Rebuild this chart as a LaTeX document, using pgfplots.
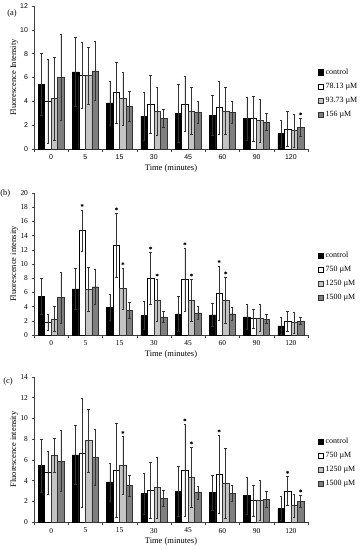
\documentclass[border=0pt]{standalone}
\usepackage{pgfplots}
\pgfplotsset{compat=1.18}
\usepackage{fontspec}
\setmainfont{Liberation Serif}
\setsansfont{Liberation Sans}
\definecolor{lgray}{HTML}{C4C4C4}
\definecolor{dgray}{HTML}{7F7F7F}
\pgfplotsset{
  common/.style={
    scale only axis, width=274bp,
    axis lines*=left, axis line style={black!75, line width=0.5bp},
    xmin=-0.5, xmax=7.5,
    xtick={0,...,7}, xticklabels={0,5,15,30,45,60,90,120},
    major x tick style={draw=none},
    minor xtick={-0.5,0.5,...,7.5},
    minor tick length=2.5bp, major tick length=2.5bp, tick align=outside,
    tick style={black!75, line width=0.5bp},
    /pgf/number format/assume math mode=true,
    tick label style={font=\fontsize{7.5}{8}\selectfont},
    label style={font=\fontsize{8.5}{9}\selectfont},
    xlabel={Time (minutes)},
    xlabel style={yshift=2bp},
    ylabel style={at={(axis description cs:-0.073,0.5)}, anchor=center},
    legend style={draw=none, fill=none, font=\fontsize{8}{9}\selectfont, row sep=3.2bp, inner sep=0pt, cells={anchor=west}},
    legend cell align=left,
    clip=false,
  },
  bars/.style={ybar, bar width=0.19, bar shift=0pt, line width=0.4bp,
    error bars/y dir=both, error bars/y explicit,
    error bars/error bar style={line width=0.45bp, black!80},
    error bars/error mark options={rotate=90, mark size=1.3bp, line width=0.45bp, black!80}},
  limg/.style={legend image code/.code={\draw[##1, line width=0.4bp] (0bp,-2.6bp) rectangle (5.2bp,2.6bp);}},
  s1/.style={bars, fill=black, draw=black, limg},
  s2/.style={bars, fill=white, draw=black, limg},
  s3/.style={bars, fill=lgray, draw=black!80, limg},
  s4/.style={bars, fill=dgray, draw=black!80, limg},
  star/.style={only marks, mark=asterisk, mark size=1.5bp, mark options={black, line width=0.6bp}, forget plot},
}
\begin{document}
\begin{tikzpicture}[x=1bp,y=1bp]
\path[use as bounding box] (0,0) rectangle (362,-550);
% ---------------- (a)
\begin{axis}[common, at={(34bp,-149bp)}, anchor=south west, height=143bp,
  ymin=0, ymax=12, ytick={0,2,...,12},
  tick label style={font=\fontsize{7}{8}\selectfont\sffamily},
  ylabel={Fluorescence Intensity},
  legend style={at={(1.036,0.39)}, anchor=west}]
\addplot[s1] table[x expr=\thisrow{x}-0.285,y=y,y error=e] {
x y e
0 5.44 2.58
1 6.48 2.86
2 3.87 1.85
3 2.75 1.99
4 2.97 2.43
5 2.85 1.67
6 2.55 1.80
7 1.30 1.15
};
\addplot[s2] table[x expr=\thisrow{x}-0.095,y=y,y error=e] {
x y e
0 4.00 3.50
1 6.17 2.77
2 4.74 2.58
3 3.73 2.44
4 3.80 2.30
5 3.50 2.22
6 2.55 1.90
7 1.70 1.50
};
\addplot[s3] table[x expr=\thisrow{x}+0.095,y=y,y error=e] {
x y e
0 4.23 3.51
1 6.17 2.38
2 4.23 2.22
3 3.17 1.99
4 3.20 2.00
5 3.20 2.00
6 2.40 1.80
7 1.55 1.37
};
\addplot[s4] table[x expr=\thisrow{x}+0.285,y=y,y error=e] {
x y e
0 6.03 3.61
1 6.56 2.47
2 3.59 1.23
3 2.58 0.76
4 3.05 0.92
5 3.10 0.95
6 2.28 0.72
7 1.82 0.78
};
\addplot[star] coordinates {(7.285,2.95)};
\legend{control,78.13 µM,93.73 µM,156 µM}
\node[font=\fontsize{8.5}{9}\selectfont, anchor=center] at (axis description cs:-0.08,0.945) {(a)};
\end{axis}
% ---------------- (b)
\begin{axis}[common, at={(34bp,-335bp)}, anchor=south west, height=142bp,
  ymin=0, ymax=20, ytick={0,2,...,20},
  ylabel={Fluorescence intensity},
  legend style={at={(1.036,0.41)}, anchor=west}]
\addplot[s1] table[x expr=\thisrow{x}-0.285,y=y,y error=e] {
x y e
0 5.44 2.58
1 6.48 2.86
2 3.87 1.85
3 2.75 1.99
4 2.97 2.43
5 2.85 1.67
6 2.55 1.80
7 1.30 1.15
};
\addplot[s2] table[x expr=\thisrow{x}-0.095,y=y,y error=e] {
x y e
0 1.78 1.12
1 14.70 2.90
2 12.60 4.50
3 8.00 3.60
4 7.80 4.40
5 5.87 3.83
6 2.30 1.40
7 2.00 1.40
};
\addplot[s3] table[x expr=\thisrow{x}+0.095,y=y,y error=e] {
x y e
0 2.25 1.75
1 6.45 3.05
2 6.55 2.85
3 4.85 2.95
4 4.90 2.90
5 4.85 3.25
6 2.40 1.90
7 1.75 1.45
};
\addplot[s4] table[x expr=\thisrow{x}+0.285,y=y,y error=e] {
x y e
0 5.30 3.60
1 6.80 2.50
2 3.45 1.15
3 2.55 0.80
4 3.10 0.90
5 3.00 0.90
6 2.25 0.65
7 2.00 0.55
};
\addplot[star] coordinates {(0.905,18.25) (1.905,17.75) (2.905,12.25) (3.905,12.85) (4.905,10.35)
  (2.095,10.05) (3.095,8.45) (4.095,8.45) (5.095,8.75)};
\legend{control,750 µM,1250 µM,1500 µM}
\node[font=\fontsize{8.5}{9}\selectfont, anchor=center] at (axis description cs:-0.105,1.0) {(b)};
\end{axis}
% ---------------- (c)
\begin{axis}[common, at={(34bp,-522bp)}, anchor=south west, height=145bp,
  ymin=0, ymax=14, ytick={0,2,...,14},
  ylabel={Fluorescence intensity},
  legend style={at={(1.036,0.41)}, anchor=west}]
\addplot[s1] table[x expr=\thisrow{x}-0.285,y=y,y error=e] {
x y e
0 5.44 2.58
1 6.48 2.86
2 3.87 1.85
3 2.75 1.99
4 2.97 2.43
5 2.85 1.67
6 2.55 1.80
7 1.30 1.15
};
\addplot[s2] table[x expr=\thisrow{x}-0.095,y=y,y error=e] {
x y e
0 4.78 2.10
1 6.66 5.28
2 4.98 4.52
3 3.10 2.70
4 5.00 4.40
5 4.60 3.75
6 2.10 1.50
7 3.00 1.40
};
\addplot[s3] table[x expr=\thisrow{x}+0.095,y=y,y error=e] {
x y e
0 6.43 1.65
1 7.89 3.04
2 5.50 2.78
3 3.35 2.95
4 4.35 2.90
5 3.75 3.35
6 2.10 1.90
7 1.60 1.10
};
\addplot[s4] table[x expr=\thisrow{x}+0.285,y=y,y error=e] {
x y e
0 5.88 2.95
1 6.27 2.72
2 3.52 1.01
3 2.30 0.75
4 2.85 0.65
5 2.80 0.80
6 2.20 0.75
7 2.00 0.60
};
\addplot[star] coordinates {(2.095,8.65) (3.905,9.85) (4.095,7.65) (4.905,8.8) (6.905,4.8) (7.285,3.0)};
\legend{control,750 µM,1250 µM,1500 µM}
\node[font=\fontsize{8.5}{9}\selectfont, anchor=center] at (axis description cs:-0.095,0.97) {(c)};
\end{axis}
\end{tikzpicture}
\end{document}
